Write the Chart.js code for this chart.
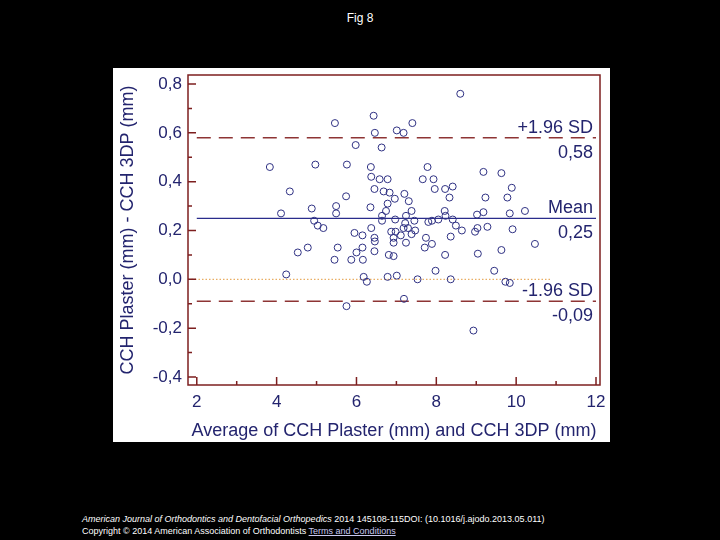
<!DOCTYPE html>
<html lang="en">
<head>
<meta charset="utf-8">
<title>Fig 8</title>
<style>
  body { margin: 0; background: #000; width: 720px; height: 540px; overflow: hidden; font-family: "Liberation Sans", Arial, sans-serif; }
  #title { position: absolute; left: 0; top: 11px; width: 720px; text-align: center; color: #fff; font-size: 12px; }
  #panel { position: absolute; left: 113px; top: 68px; width: 497px; height: 374px; background: #fff; }
  #panel canvas { display: block; }
  #foot { position: absolute; left: 82px; top: 513px; color: #fff; font-size: 9px; line-height: 12px; white-space: nowrap; }
  #foot a { color: #c8c8f0; text-decoration: underline; }
</style>
</head>
<body>
<div id="title">Fig 8</div>
<div id="panel"><canvas id="bland" width="497" height="374"></canvas></div>
<div id="foot">
  <i>American Journal of Orthodontics and Dentofacial Orthopedics</i> 2014 145108-115DOI: (10.1016/j.ajodo.2013.05.011)<br>
  Copyright © 2014 American Association of Orthodontists <a>Terms and Conditions</a>
</div>

<script src="https://cdn.jsdelivr.net/npm/chart.js"></script>
<script>
  // average of the two methods (x) and their difference (y)
  const avgs = [3.83, 4.11, 4.33, 4.24, 4.53, 4.78, 4.88, 4.97, 4.94, 5.03, 5.17, 5.46, 5.98, 5.76, 5.74, 5.49, 5.49, 5.95, 6.15, 5.53,
                5.45, 5.87, 6.00, 6.15, 6.16, 6.18, 6.26, 5.75, 8.60, 6.43, 7.40, 6.46, 7.01, 7.18, 6.63, 6.36, 7.78, 6.37, 6.58, 6.78,
                7.66, 7.93, 6.45, 6.68, 6.83, 7.96, 8.22, 8.41, 8.33, 6.96, 7.20, 6.35, 6.78, 6.74, 7.31, 6.64, 6.64, 6.97, 7.24, 7.38,
                7.45, 7.22, 7.18, 7.29, 7.80, 7.89, 8.05, 8.21, 8.23, 8.41, 8.49, 8.64, 6.37, 6.45, 6.46, 6.87, 6.98, 7.11, 6.93, 7.38,
                7.47, 7.24, 7.74, 7.89, 7.71, 8.36, 6.45, 6.93, 6.81, 6.93, 8.22, 6.78, 7.01, 7.53, 7.98, 8.36, 7.19, 9.02, 9.18, 9.18,
                9.63, 9.89, 9.23, 9.78, 9.84, 10.22, 9.28, 9.03, 8.97, 9.91, 10.47, 9.63, 9.04, 9.45, 9.73, 9.84, 8.93];
  const diffs = [0.46, 0.27, 0.36, 0.02, 0.11, 0.13, 0.29, 0.47, 0.24, 0.22, 0.21, 0.64, 0.55, 0.47, 0.34, 0.30, 0.27, 0.19, 0.18, 0.13,
                 0.08, 0.08, 0.11, 0.13, 0.08, 0.01, -0.01, -0.11, 0.76, 0.67, 0.64, 0.60, 0.61, 0.60, 0.54, 0.46, 0.46, 0.42, 0.41, 0.41,
                 0.41, 0.41, 0.37, 0.36, 0.355, 0.37, 0.37, 0.38, 0.335, 0.33, 0.35, 0.295, 0.31, 0.28, 0.32, 0.26, 0.24, 0.245, 0.26, 0.28,
                 0.24, 0.23, 0.21, 0.21, 0.235, 0.24, 0.245, 0.28, 0.26, 0.245, 0.22, 0.20, 0.21, 0.17, 0.155, 0.195, 0.195, 0.18, 0.17, 0.185,
                 0.20, 0.15, 0.17, 0.145, 0.13, 0.175, 0.115, 0.15, 0.10, 0.095, 0.10, 0.01, 0.015, 0.00, 0.035, 0.00, -0.08, 0.265, 0.275, 0.44,
                 0.435, 0.375, 0.335, 0.335, 0.27, 0.28, 0.215, 0.21, 0.195, 0.205, 0.145, 0.12, 0.105, 0.035, -0.01, -0.015, -0.21];

  const MEAN = 0.25;
  const SD_HI = 0.58;
  const SD_LO = -0.09;
  const X_TICKS = [2, 4, 6, 8, 10, 12];
  const Y_TICKS = [-0.4, -0.2, 0, 0.2, 0.4, 0.6, 0.8];
  const REF_LABELS = [
    { value: SD_HI, above: '+1.96 SD', below: '0,58' },
    { value: MEAN,  above: 'Mean',     below: '0,25' },
    { value: SD_LO, above: '-1.96 SD', below: '-0,09' }
  ];

  const NAVY = '#23246e';
  const MAROON = '#7d1f1f';
  const DASHRED = '#8e3434';

  const pts = avgs.map((a, i) => ({ x: a, y: diffs[i] }));
  const hline = (v, x0, x1) => [{ x: x0, y: v }, { x: x1, y: v }];

  Chart.defaults.font.family = '"Liberation Sans", Arial, sans-serif';

  // frame with inward ticks, and the text by the reference lines
  const framePlugin = {
    id: 'frame',
    afterDraw(chart) {
      const { ctx, chartArea: a, scales: { x, y } } = chart;
      ctx.save();
      ctx.strokeStyle = MAROON;
      ctx.lineWidth = 1.5;
      ctx.strokeRect(a.left, a.top, a.right - a.left, a.bottom - a.top);
      ctx.beginPath();
      for (let v = 2; v <= 12; v++) {
        const px = x.getPixelForValue(v);
        const len = v % 2 === 0 ? 8 : 4;
        ctx.moveTo(px, a.bottom);
        ctx.lineTo(px, a.bottom - len);
      }
      for (let i = -4; i <= 8; i++) {
        const py = y.getPixelForValue(i / 10);
        const len = i % 2 === 0 ? 8 : 4;
        ctx.moveTo(a.left, py);
        ctx.lineTo(a.left + len, py);
      }
      ctx.stroke();

      ctx.fillStyle = NAVY;
      ctx.font = '18px "Liberation Sans", Arial, sans-serif';
      ctx.textAlign = 'right';
      ctx.textBaseline = 'alphabetic';
      const rx = a.right - 7;
      REF_LABELS.forEach(r => {
        const py = y.getPixelForValue(r.value);
        ctx.fillText(r.above, rx, py - 5);
        ctx.fillText(r.below, rx, py + 20);
      });
      ctx.restore();
    }
  };

  new Chart(document.getElementById('bland'), {
    type: 'scatter',
    data: {
      datasets: [
        { data: pts, order: 0, pointStyle: 'circle', pointRadius: 3.5, borderWidth: 1,
          borderColor: '#2f3183', backgroundColor: 'rgba(0,0,0,0)' },
        { data: hline(SD_HI, 2, 12), order: 1, showLine: true, pointRadius: 0,
          borderColor: DASHRED, borderWidth: 1.5, borderDash: [14, 8] },
        { data: hline(MEAN, 2, 12), order: 1, showLine: true, pointRadius: 0,
          borderColor: '#2a2c8c', borderWidth: 1.3 },
        { data: hline(SD_LO, 2, 12), order: 1, showLine: true, pointRadius: 0,
          borderColor: DASHRED, borderWidth: 1.5, borderDash: [14, 8] },
        { data: hline(0, 1.78, 10.85), order: 1, showLine: true, pointRadius: 0,
          borderColor: '#e39a3c', borderWidth: 1, borderDash: [1.5, 2] }
      ]
    },
    options: {
      responsive: false,
      animation: false,
      layout: { autoPadding: false, padding: { left: 0, top: 7, right: 10, bottom: 0 } },
      plugins: { legend: { display: false }, tooltip: { enabled: false } },
      scales: {
        x: {
          type: 'linear', min: 1.78, max: 12.1,
          afterBuildTicks: (axis) => { axis.ticks = X_TICKS.map(v => ({ value: v })); },
          afterFit: (axis) => { axis.height = 57; axis.paddingLeft = 0; axis.paddingRight = 0; },
          grid: { display: false, drawTicks: false },
          border: { display: false },
          ticks: { color: NAVY, font: { size: 17 }, padding: 7, maxRotation: 0, callback: (v) => String(v) },
          title: { display: true, text: 'Average of CCH Plaster (mm) and CCH 3DP (mm)', color: NAVY,
                   font: { size: 18 }, padding: { top: 1, bottom: 0 } }
        },
        y: {
          type: 'linear', min: -0.433, max: 0.837,
          afterBuildTicks: (axis) => { axis.ticks = Y_TICKS.map(v => ({ value: v })); },
          afterFit: (axis) => { axis.width = 75; axis.paddingTop = 0; axis.paddingBottom = 0; },
          grid: { display: false, drawTicks: false },
          border: { display: false },
          ticks: { color: NAVY, font: { size: 17 }, padding: 6,
                   callback: (v) => v.toFixed(1).replace('.', ',') },
          title: { display: true, text: 'CCH Plaster (mm) - CCH 3DP (mm)', color: NAVY,
                   font: { size: 18 }, padding: { top: 4, bottom: 4 } }
        }
      }
    },
    plugins: [framePlugin]
  });
</script>
</body>
</html>
